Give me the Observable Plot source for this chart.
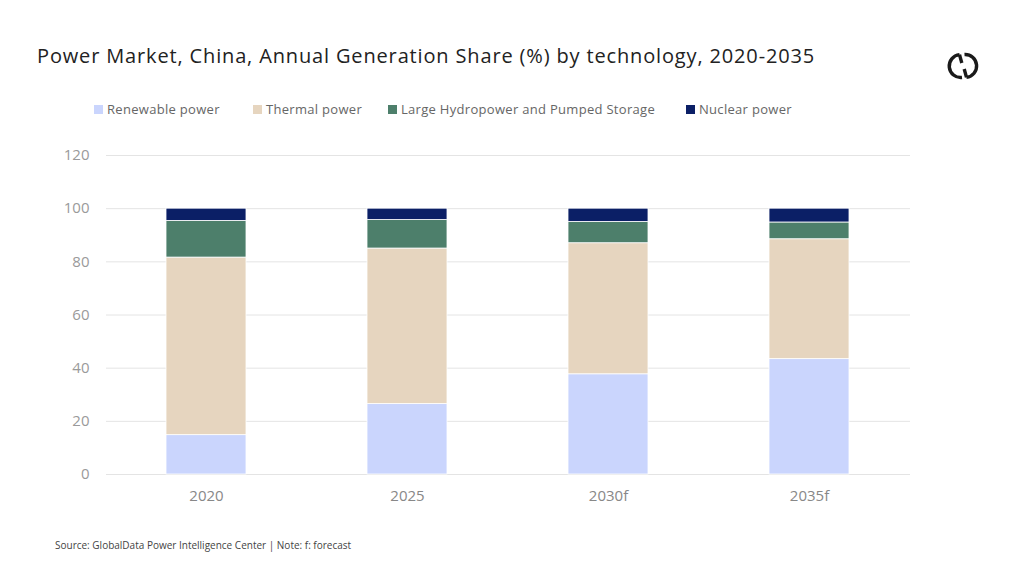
<!DOCTYPE html>
<html>
<head>
<meta charset="utf-8">
<script src="https://cdn.jsdelivr.net/npm/d3@7"></script>
<script src="https://cdn.jsdelivr.net/npm/@observablehq/plot@0.6"></script>
<style>
  html, body { margin: 0; padding: 0; background: #fff; }
  body { width: 1024px; height: 576px; position: relative; overflow: hidden; font-family: "Open Sans", sans-serif; }
  #title { position: absolute; left: 37px; top: 42px; font-size: 20px; letter-spacing: 0.85px; color: #222; white-space: nowrap; }
  #legend { position: absolute; left: 94px; top: 100px; font-size: 13px; letter-spacing: 0.3px; color: #666; white-space: nowrap; }
  .li { position: absolute; top: 0; display: flex; align-items: center; }
  .sw { width: 9px; height: 9px; margin-right: 4px; }
  #chart { position: absolute; left: 0; top: 140px; }
  #source { position: absolute; left: 55px; top: 538px; font-size: 10px; color: #444; white-space: nowrap; }
  #logo { position: absolute; left: 944px; top: 47px; }
</style>
</head>
<body>
<div id="title">Power Market, China, Annual Generation Share (%) by technology, 2020-2035</div>
<div id="legend"></div>
<div id="chart"></div>
<div id="source">Source: GlobalData Power Intelligence Center | Note: f: forecast</div>
<svg id="logo" width="38" height="38" viewBox="0 0 38 38">
  <g fill="none" stroke="#1a1a1a" stroke-width="3.4">
    <path d="M15.5 7.6 A11.5 11.5 0 0 0 18 30.5"/>
    <path d="M20.5 7.5 A11.5 11.5 0 0 1 22.5 30.4"/>
    <path d="M15.5 7.6 L17.8 16"/>
    <path d="M22.5 30.4 L20.2 22"/>
  </g>
</svg>
<script>
const years = ["2020", "2025", "2030f", "2035f"];
const series = ["Renewable power", "Thermal power", "Large Hydropower and Pumped Storage", "Nuclear power"];
const colors = ["#cad5fd", "#e6d5bf", "#4d7f6b", "#0b1f66"];
const renewable = [14.8, 26.5, 37.7, 43.4];
const thermal   = [66.8, 58.5, 49.3, 45.1];
const hydro     = [13.8, 10.7, 8.0, 6.3];
const nuclear   = [4.6, 4.3, 5.0, 5.2];
const yTicks = [0, 20, 40, 60, 80, 100, 120];

const values = [renewable, thermal, hydro, nuclear];
const data = [];
series.forEach((s, si) => years.forEach((y, yi) => data.push({year: y, series: s, value: values[si][yi]})));

// legend
const legendX = [0, 159, 294, 592];
const legend = document.getElementById("legend");
series.forEach((s, i) => {
  const d = document.createElement("div");
  d.className = "li";
  d.style.left = legendX[i] + "px";
  d.innerHTML = `<span class="sw" style="background:${colors[i]}"></span><span>${s}</span>`;
  legend.appendChild(d);
});

const plot = Plot.plot({
  width: 1024,
  height: 372,
  marginTop: 15,
  marginBottom: 38,
  marginLeft: 106,
  marginRight: 114,
  style: {fontFamily: "Open Sans, sans-serif", fontSize: "15px", background: "transparent"},
  x: {domain: years, paddingInner: 0.6, paddingOuter: 0.3, label: null, tickSize: 0, tickPadding: 16},
  y: {domain: [0, 120], ticks: yTicks, label: null, tickSize: 0, tickPadding: 17},
  color: {domain: series, range: colors},
  marks: [
    Plot.ruleY(yTicks, {stroke: "#e4e4e4", strokeWidth: 1}),
    Plot.barY(data, {x: "year", y: "value", fill: "series", order: series, stroke: "#fff", strokeWidth: 0.8}),
    Plot.axisY({ticks: yTicks, tickSize: 0, tickPadding: 17, fill: "#9a9a9a", label: null}),
    Plot.axisX({tickSize: 0, tickPadding: 16, fill: "#888", label: null})
  ]
});
document.getElementById("chart").appendChild(plot);
</script>
</body>
</html>
